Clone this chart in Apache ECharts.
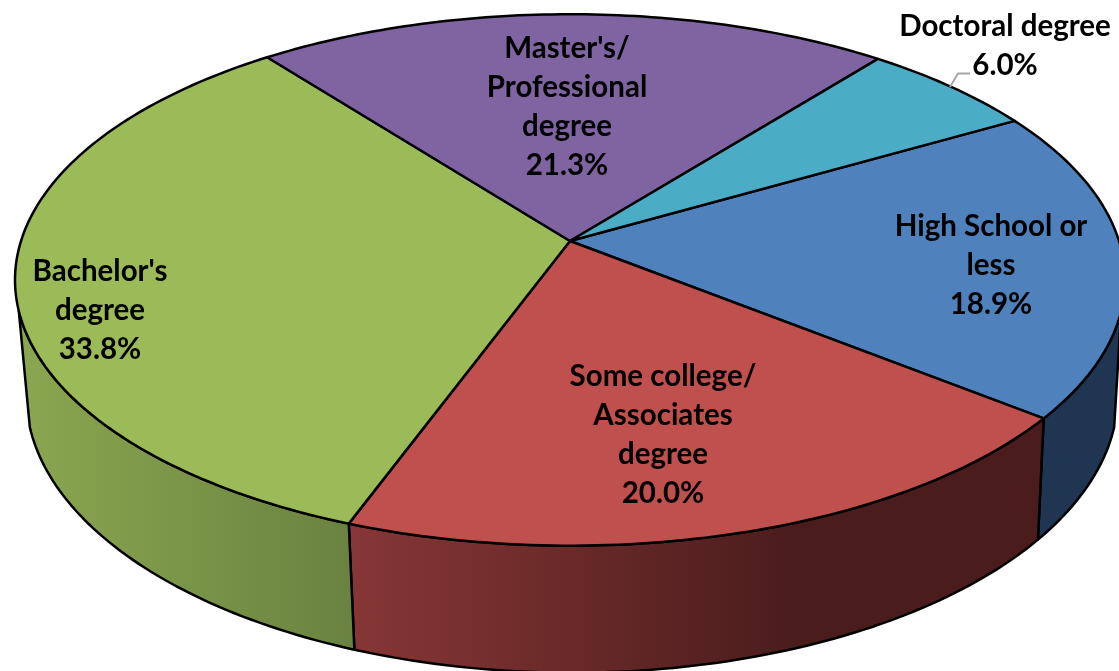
<!DOCTYPE html>
<html><head><meta charset="utf-8">
<style>html,body{margin:0;padding:0;background:#fff;overflow:hidden}#c{width:1119px;height:671px}</style>
<script src="https://cdn.jsdelivr.net/npm/echarts@6/dist/echarts.min.js"></script>
</head><body><div id="c"></div>
<script>
const categories = ["High School or\nless", "Some college/\nAssociates\ndegree", "Bachelor's\ndegree", "Master's/\nProfessional\ndegree", "Doctoral degree"];
const shares = [18.9, 20.0, 33.8, 21.3, 6.0];
const topColors = ["#4f81bd", "#c0504d", "#9bbb59", "#8064a2", "#4bacc6"];
const wallColors = [["#1f3552", "#1f3552"], ["#873735", "#4a1c1c"], ["#8aa750", "#6a8240"], null, null];
const labelCenters = [[991, 265], [663, 435], [100, 310], [567, 107], [1005, 46]];

// Projection of the disc (perspective view of a tilted circle)
const startDeg = -29.7, K = 0.1466;
const topDisc = {cx: 570, cy: 241, rx: 549, ry: 260};
const baseDisc = {cx: 572, cy: 354, rx: 540, ry: 272};
const wallFrom = 15, wallTo = 165;

function project(d, deg) {
  const t = deg * Math.PI / 180, u = Math.cos(t), v = Math.sin(t), s = 1 / (1 - K * v);
  return [d.cx + d.rx * u * s, d.cy + d.ry * v * s];
}
function arc(d, a, b) {
  const pts = [], n = Math.max(2, Math.ceil(Math.abs(b - a)));
  for (let i = 0; i <= n; i++) pts.push(project(d, a + (b - a) * i / n));
  return pts;
}
const total = shares.reduce((a, b) => a + b, 0);

function renderItem(params, api) {
  const i = params.dataIndex;
  let before = 0;
  for (let j = 0; j < i; j++) before += api.value(1, j);
  const a0 = startDeg + before / total * 360;
  const a1 = a0 + api.value(1) / total * 360;
  const children = [];

  // side wall: only the part of the rim facing the viewer
  const na = Math.max(a0, wallFrom), nb = Math.min(a1, wallTo);
  if (wallColors[i] && nb > na) {
    const pts = arc(topDisc, na, nb).concat(arc(baseDisc, nb, na));
    children.push({
      type: 'polygon', z2: 1,
      shape: {points: pts},
      style: {
        fill: new echarts.graphic.LinearGradient(0, 0, 1, 0, [
          {offset: 0, color: wallColors[i][0]},
          {offset: i === 1 ? 0.65 : 1, color: wallColors[i][1]},
          {offset: 1, color: wallColors[i][1]}
        ]),
        stroke: '#000', lineWidth: 2.5, lineJoin: 'round'
      }
    });
  }
  // top face
  const face = [[topDisc.cx, topDisc.cy]].concat(arc(topDisc, a0, a1));
  children.push({
    type: 'polygon', z2: 2,
    shape: {points: face},
    style: {fill: topColors[i], stroke: '#000', lineWidth: 2.5, lineJoin: 'round'}
  });
  // label
  children.push({
    type: 'text', z2: 5,
    x: labelCenters[i][0], y: labelCenters[i][1],
    style: {
      text: categories[i] + '\n' + api.value(1).toFixed(1) + '%',
      font: 'bold 29.5px Lato, "Open Sans", sans-serif',
      lineHeight: 39, fill: '#000', align: 'center', verticalAlign: 'middle'
    }
  });
  // leader for the small slice
  if (i === 4) {
    children.push({
      type: 'polyline', z2: 4,
      shape: {points: [[950, 87], [958, 73.5], [970, 73.5]]},
      style: {fill: 'none', stroke: '#a6a6a6', lineWidth: 2}
    });
  }
  return {type: 'group', children};
}

const chart = echarts.init(document.getElementById('c'), null, {renderer: 'canvas'});
chart.setOption({
  animation: false,
  backgroundColor: '#fff',
  series: [{
    type: 'custom',
    coordinateSystem: 'none',
    renderItem,
    silent: true,
    data: shares.map((v, i) => [i, v])
  }]
});
</script></body></html>
